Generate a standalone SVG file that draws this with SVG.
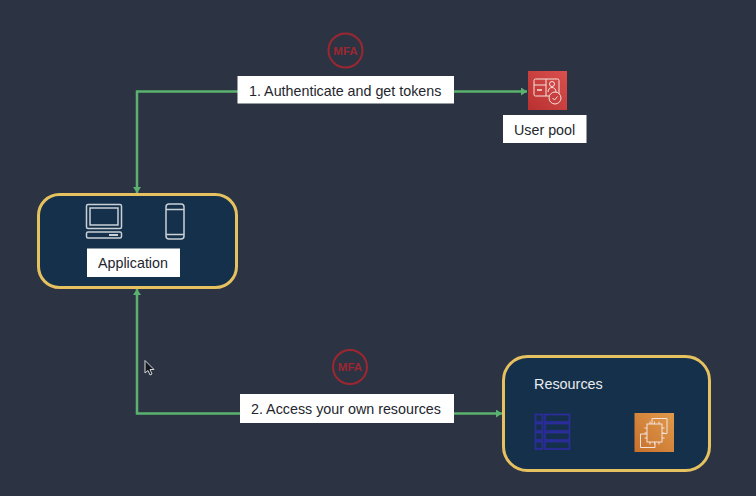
<svg xmlns="http://www.w3.org/2000/svg" width="756" height="496" viewBox="0 0 756 496">
<style>
.lbl{fill:#fff}
.t{font-family:"Liberation Sans",Arial,sans-serif;font-size:14.300px;fill:#23262d}
.box{fill:#15304a;stroke:#e6c15f;stroke-width:3}
.edge{fill:none;stroke:#5ab26e;stroke-width:2.500}
.mfa{fill:none;stroke:#9c2730;stroke-width:2}
.mfat{font-family:"Liberation Sans",Arial,sans-serif;font-size:11.500px;font-weight:bold;fill:#9c2730;text-anchor:middle}
.w{fill:none;stroke:#c9d0d6;stroke-width:1.500}
.i{fill:none;stroke:#f3e3dc;stroke-width:1}
.b{fill:none;stroke:#2b2d9a;stroke-width:1.800}
</style>
<defs>
<marker id="arr" markerUnits="userSpaceOnUse" markerWidth="8" markerHeight="8" refX="6" refY="4" orient="auto"><path d="M0 0L6 4L0 8Z" fill="#5ab26e"/></marker>
<linearGradient id="red" x1="0" y1="1" x2="1" y2="0"><stop offset="0" stop-color="#b8302f"/><stop offset="1" stop-color="#d9504f"/></linearGradient>
<linearGradient id="org" x1="0" y1="1" x2="1" y2="0"><stop offset="0" stop-color="#c8702c"/><stop offset="1" stop-color="#e09a4c"/></linearGradient>
</defs>
<rect width="756" height="496" fill="#2c3444"/>
<g id="connectors">
<path class="edge" d="M238 91.500H137V193" marker-end="url(#arr)"/>
<path class="edge" d="M454 91.500H527" marker-end="url(#arr)"/>
<path class="edge" d="M240 413.500H137V289" marker-end="url(#arr)"/>
<path class="edge" d="M454 413.500H502" marker-end="url(#arr)"/>
</g>
<g id="mfa-1"><circle class="mfa" cx="345.500" cy="50.500" r="17"/><text class="mfat" x="345.500" y="54.500">MFA</text></g>
<g id="mfa-2"><circle class="mfa" cx="350" cy="367" r="17"/><text class="mfat" x="350" y="371">MFA</text></g>
<g id="step-1"><rect class="lbl" x="237.500" y="76" width="216.500" height="27.500"/><text class="t" x="249" y="96">1. Authenticate and get tokens</text></g>
<g id="step-2"><rect class="lbl" x="240" y="394" width="214" height="29"/><text class="t" x="251" y="414">2. Access your own resources</text></g>
<g id="user-pool">
<rect x="528" y="71" width="39" height="39" fill="url(#red)"/>
<g class="i">
<rect x="534" y="79" width="25" height="17" rx="1.500"/>
<path d="M534 85H546M546 79V96"/>
<circle cx="552" cy="84" r="2.500"/>
<path d="M548 92c0-6 8-6 8 0"/>
<path d="M537 90h5" stroke-width="1.500"/>
<circle cx="555" cy="98" r="6" fill="#c8403f"/>
<path d="M552.500 98l2 2 3-3.500"/>
</g>
<rect class="lbl" x="503" y="115" width="83.500" height="28"/>
<text class="t" x="514" y="135">User pool</text>
</g>
<g id="application">
<rect class="box" x="38.500" y="194.500" width="198" height="93" rx="21"/>
<g class="w">
<rect x="86.500" y="204.500" width="35" height="24" rx="1.500"/>
<rect x="90" y="208" width="28" height="17"/>
<rect x="86.500" y="232" width="35" height="6" rx="1.500"/>
<path d="M109 235h9" stroke-width="2"/>
<rect x="166" y="204" width="18" height="35" rx="3"/>
<path d="M166 209.500h18M166 234.500h18"/>
</g>
<rect class="lbl" x="87" y="248.500" width="93" height="28.500"/>
<text class="t" x="98" y="268">Application</text>
</g>
<g id="resources">
<rect class="box" x="503.500" y="356.500" width="206" height="114" rx="24"/>
<text x="534" y="389" font-family="'Liberation Sans',Arial,sans-serif" font-size="14.400" fill="#e8ecef">Resources</text>
<g class="b">
<rect x="535.500" y="414.500" width="7" height="7.500"/><rect x="545" y="414.500" width="24.500" height="7.500"/>
<rect x="535.500" y="423.500" width="7" height="7.500"/><rect x="545" y="423.500" width="24.500" height="7.500"/>
<rect x="535.500" y="432.500" width="7" height="7.500"/><rect x="545" y="432.500" width="24.500" height="7.500"/>
<rect x="535.500" y="441.500" width="7" height="7.500"/><rect x="545" y="441.500" width="24.500" height="7.500"/>
</g>
<rect x="634.500" y="413" width="39.500" height="39" fill="url(#org)"/>
<g class="i">
<path d="M652 424v-5.500h15v15h-5"/>
<path d="M647 434h-6.500v13.500h14.500v-5"/>
<rect x="647" y="424" width="15" height="18"/>
<path d="M650 421.500v2.500M654.500 421.500v2.500M659 421.500v2.500M650 442v2.500M654.500 442v2.500M659 442v2.500M644.500 428h2.500M644.500 433h2.500M644.500 438h2.500M662 428h2.500M662 433h2.500M662 438h2.500"/>
</g>
</g>
<g id="cursor"><path d="M145 360.500V373l3-2.500 2 4.500 2-1-2-4.500h4Z" fill="#14171d" stroke="#d5d8dc" stroke-width="1"/></g>
</svg>
